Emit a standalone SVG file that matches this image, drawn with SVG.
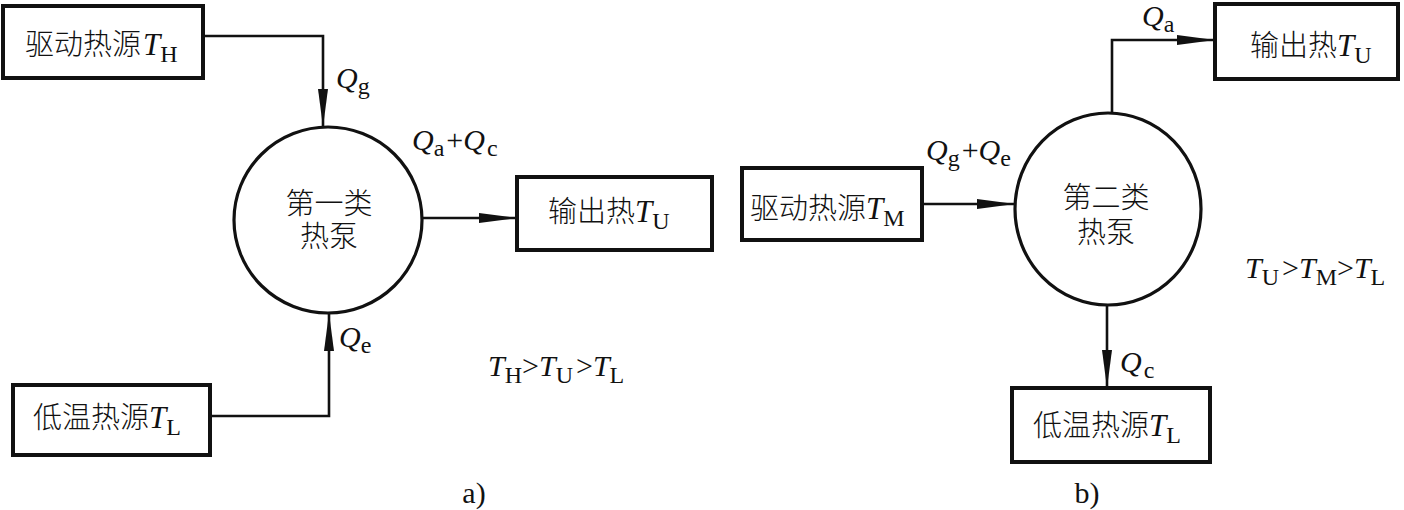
<svg xmlns="http://www.w3.org/2000/svg" width="1404" height="510" viewBox="0 0 1404 510">
<style>
.box{fill:#fff;stroke:#111;stroke-width:4}
.circ{fill:#fff;stroke:#111;stroke-width:3.2}
.conn{fill:none;stroke:#111;stroke-width:2.6}
.cn{font-family:"Liberation Serif","Noto Sans CJK SC",serif;font-size:29px;fill:#111;font-weight:300}
.lab{font-family:"Liberation Serif","Noto Sans CJK SC",serif;font-size:30px;fill:#111}
.it{font-style:italic}
.sub{font-size:24px;font-style:normal}
.tsub{font-size:24px;font-style:normal}
</style>
<defs>
<marker id="arr" markerUnits="userSpaceOnUse" markerWidth="40" markerHeight="12" refX="38" refY="5" orient="auto">
<path d="M0,0 L38,5 L0,10 z" fill="#111"/>
</marker>
</defs>
<rect width="1404" height="510" fill="#fff"/>
<g id="connectors">
<polyline class="conn" points="203,36 323,36 323,127" marker-end="url(#arr)"/>
<line class="conn" x1="423" y1="218" x2="517" y2="218" marker-end="url(#arr)"/>
<polyline class="conn" points="210,416 329,416 329,313" marker-end="url(#arr)"/>
<line class="conn" x1="922" y1="204" x2="1015" y2="204" marker-end="url(#arr)"/>
<polyline class="conn" points="1112,113 1112,40 1215,40" marker-end="url(#arr)"/>
<line class="conn" x1="1107" y1="305" x2="1107" y2="388" marker-end="url(#arr)"/>
</g>
<g id="drive-a">
<rect class="box" x="3" y="6" width="200" height="72"/>
<text class="cn" x="25" y="55">驱动热源<tspan class="it" font-size="31" dx="2">T</tspan><tspan class="tsub" dy="7">H</tspan></text>
</g>
<g id="pump-a">
<ellipse class="circ" cx="328" cy="220" rx="94" ry="93"/>
<text class="cn" x="329" y="214" text-anchor="middle">第一类</text>
<text class="cn" x="329" y="247" text-anchor="middle">热泵</text>
</g>
<g id="out-a">
<rect class="box" x="517" y="177" width="195" height="73"/>
<text class="cn" x="548" y="222">输出热<tspan class="it" font-size="31">T</tspan><tspan class="tsub" dy="7">U</tspan></text>
</g>
<g id="low-a">
<rect class="box" x="13" y="385" width="197" height="70"/>
<text class="cn" x="33" y="428">低温热源<tspan class="it" font-size="31">T</tspan><tspan class="tsub" dy="7">L</tspan></text>
</g>
<g id="drive-b">
<rect class="box" x="742" y="168" width="180" height="72"/>
<text class="cn" x="750" y="219">驱动热源<tspan class="it" font-size="31">T</tspan><tspan class="tsub" dy="7">M</tspan></text>
</g>
<g id="pump-b">
<ellipse class="circ" cx="1108" cy="209" rx="93" ry="96"/>
<text class="cn" x="1106" y="208" text-anchor="middle">第二类</text>
<text class="cn" x="1106" y="243" text-anchor="middle">热泵</text>
</g>
<g id="out-b">
<rect class="box" x="1215" y="4" width="183" height="75"/>
<text class="cn" x="1250" y="56">输出热<tspan class="it" font-size="31">T</tspan><tspan class="tsub" dy="7">U</tspan></text>
</g>
<g id="low-b">
<rect class="box" x="1012" y="388" width="198" height="74"/>
<text class="cn" x="1033" y="436">低温热源<tspan class="it" font-size="31">T</tspan><tspan class="tsub" dy="7">L</tspan></text>
</g>
<g id="labels">
<text class="lab" x="336" y="88"><tspan class="it">Q</tspan><tspan class="sub" dy="6">g</tspan></text>
<text class="lab" x="412" y="150"><tspan class="it">Q</tspan><tspan class="sub" dy="6">a</tspan><tspan dy="-6" dx="2">+</tspan><tspan class="it">Q</tspan><tspan class="sub" dy="6" dx="2">c</tspan></text>
<text class="lab" x="339" y="347"><tspan class="it">Q</tspan><tspan class="sub" dy="6">e</tspan></text>
<text class="lab" x="488" y="376"><tspan class="it">T</tspan><tspan class="tsub" dy="7">H</tspan><tspan dy="-7">&gt;</tspan><tspan class="it">T</tspan><tspan class="tsub" dy="7">U</tspan><tspan dy="-7" dx="3">&gt;</tspan><tspan class="it">T</tspan><tspan class="tsub" dy="7">L</tspan></text>
<text class="lab" x="474" y="503" text-anchor="middle">a)</text>
<text class="lab" x="926" y="160"><tspan class="it">Q</tspan><tspan class="sub" dy="6">g</tspan><tspan dy="-6" dx="2">+</tspan><tspan class="it">Q</tspan><tspan class="sub" dy="6">e</tspan></text>
<text class="lab" x="1142" y="26"><tspan class="it">Q</tspan><tspan class="sub" dy="6">a</tspan></text>
<text class="lab" x="1120" y="372"><tspan class="it">Q</tspan><tspan class="sub" dy="6" dx="2">c</tspan></text>
<text class="lab" x="1245" y="278"><tspan class="it">T</tspan><tspan class="tsub" dy="7">U</tspan><tspan dy="-7" dx="3">&gt;</tspan><tspan class="it">T</tspan><tspan class="tsub" dy="7">M</tspan><tspan dy="-7">&gt;</tspan><tspan class="it">T</tspan><tspan class="tsub" dy="7">L</tspan></text>
<text class="lab" x="1087" y="503" text-anchor="middle">b)</text>
</g>
</svg>
